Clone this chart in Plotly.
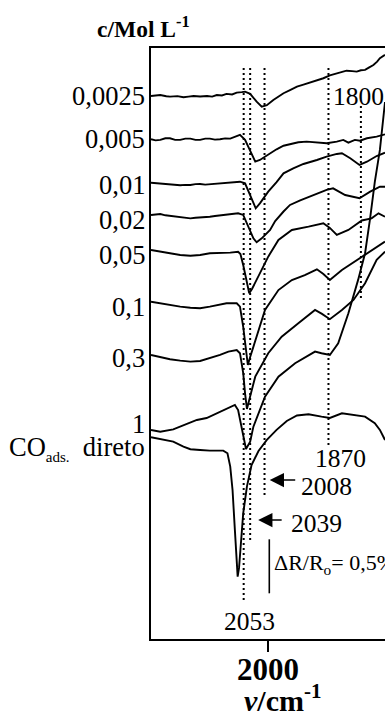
import plotly.graph_objects as go

# ---------------------------------------------------------------------------
# Stacked IR difference spectra, DeltaR/R in units of 1e-4, vs wavenumber
# ---------------------------------------------------------------------------
concentrations = ["0,0025", "0,005", "0,01", "0,02", "0,05", "0,1", "0,3", "1",
                  "CO<sub><span style='font-size:15px'>ads.</span></sub>  direto"]

# vertical stacking offset of each spectrum (DeltaR/R x 1e4)
offsets = [502.8, 462.7, 422.5, 392.6, 360.2, 312.3, 263.0, 193.5, 186.8]

nu_0p0025 = [2253, 2233, 2220, 2212, 2196, 2183, 2172, 2161, 2147, 2132, 2121, 2111, 2100,
             2090, 2078, 2068, 2057, 2050, 2039, 2033, 2025, 2014, 2003, 1989, 1967, 1953,
             1938, 1924, 1910, 1897, 1881, 1867, 1852, 1831, 1819, 1809, 1800, 1791, 1782,
             1773, 1765, 1759, 1748]
dr_0p0025 = [0, 0.9, -0.3, -0.6, -0.2, -1.2, -0.6, 0, -0.5, 0, -0.6, 0.9, 0.4,
             1.9, 1.4, 3.1, 3.6, 4.0, 1.9, -1.5, -5.3, -9.9, -8.6, -3.7, 2.5, 5.4,
             8.6, 10.5, 12.3, 14.0, 16.4, 19.0, 21.0, 23.4, 23.0, 22.5, 23.8, 24.1, 26.5,
             28.7, 31.8, 34.9, 38.0]

nu_0p005 = [2253, 2243, 2233, 2222, 2212, 2201, 2190, 2179, 2168, 2157, 2147, 2136, 2126,
            2115, 2104, 2093, 2082, 2068, 2061, 2050, 2039, 2028, 2018, 1996, 1982, 1967,
            1953, 1935, 1917, 1895, 1874, 1852, 1838, 1827, 1813, 1802, 1787, 1766, 1748]
dr_0p005 = [0, -1.0, -0.6, 0.9, 0.9, -0.6, -0.6, 0.6, 0.6, -0.6, -0.6, 0.6, 0.6,
            -0.3, 0, 0.8, 0.6, 3.1, 4.0, -0.6, -11.5, -20.7, -19.2, -13.0, -9.3, -6.0,
            -4.4, -2.8, -2.2, -3.0, -3.7, -2.2, -0.6, -3.1, -0.6, -1.3, 0.9, 2.4, 4.6]

nu_0p01 = [2253, 2243, 2233, 2222, 2212, 2201, 2190, 2179, 2168, 2157, 2147, 2136, 2126,
           2115, 2104, 2093, 2082, 2061, 2050, 2039, 2027, 2018, 2000, 1982, 1967, 1946,
           1924, 1895, 1874, 1852, 1841, 1823, 1803, 1787, 1766, 1748]
dr_0p01 = [0, -0.3, -0.6, -1.5, -1.2, -2.0, -2.4, -2.0, -2.1, -1.3, -1.2, -1.8, -1.5,
           -0.6, -0.6, 0, 0, 0.9, -0.6, -11.4, -23.7, -19.1, -8.3, 0.6, 8.7, 13.3,
           17.3, 21.0, 24.1, 26.6, 27.2, 22.6, 16.4, 19.4, 24.7, 27.8]

nu_0p02 = [2253, 2243, 2233, 2222, 2212, 2201, 2190, 2179, 2168, 2157, 2147, 2136, 2126,
           2115, 2104, 2093, 2082, 2065, 2054, 2043, 2032, 2025, 2014, 1996, 1985, 1967,
           1953, 1931, 1910, 1874, 1860, 1834, 1803, 1780, 1759, 1748]
dr_0p02 = [0, 0.5, 0.9, -0.3, -0.9, -1.8, -2.1, -2.9, -3.1, -2.6, -2.5, -2.2, -1.6,
           -1.0, -0.3, 0.3, 0.9, 1.6, 0, -10.8, -21.6, -25.3, -21.6, -13.9, -5.6, 3.2,
           9.3, 13.5, 16.9, 23.2, 24.7, 18.5, 15.5, 21.6, 26.2, 26.2]

nu_0p05 = [2253, 2233, 2212, 2190, 2168, 2147, 2126, 2104, 2082, 2065, 2060, 2054, 2047,
           2041, 2035, 2021, 2000, 1978, 1949, 1913, 1881, 1867, 1852, 1827, 1798, 1777,
           1762, 1748]
dr_0p05 = [0, -1.6, -3.1, -4.6, -5.3, -4.6, -3.1, -3.1, -2.5, -1.6, -3.7, -13.9, -29.6,
           -40.1, -36.1, -24.6, -6.2, 9.3, 18.5, 21.6, 24.7, 20.4, 13.9, 18.5, 27.3, 29.3,
           33.9, 30.8]

nu_0p1 = [2253, 2233, 2212, 2190, 2168, 2147, 2126, 2104, 2090, 2068, 2061, 2054, 2048,
          2044, 2039, 2028, 2007, 1978, 1949, 1921, 1895, 1881, 1867, 1841, 1798, 1770,
          1748]
dr_0p1 = [0, -1.5, -3.1, -4.6, -5.6, -6.1, -4.6, -3.1, -1.5, -1.5, -4.6, -23.2, -42.9,
          -58.6, -51.2, -35.5, -7.7, 10.8, 20.1, 24.7, 30.0, 25.7, 20.1, 29.4, 41.7, 49.4,
          55.6]

nu_0p3 = [2253, 2233, 2212, 2190, 2168, 2147, 2126, 2104, 2086, 2068, 2061, 2054, 2050,
          2046, 2041, 2028, 2000, 1971, 1935, 1899, 1884, 1867, 1841, 1816, 1791, 1766,
          1748]
dr_0p3 = [0, -2.1, -4.0, -5.3, -6.2, -5.6, -3.1, 0, 3.1, 4.6, 1.6, -16.9, -35.5,
          -50.0, -41.7, -20.1, 1.6, 16.9, 29.4, 41.7, 38.0, 33.1, 41.7, 50.9, 66.4, 88.0,
          95.7]

nu_1 = [2253, 2233, 2205, 2183, 2154, 2133, 2111, 2090, 2072, 2065, 2057, 2052, 2048,
        2039, 2032, 2007, 1978, 1942, 1899, 1885, 1867, 1849, 1827, 1806, 1791, 1780,
        1770, 1759, 1748]
dr_1 = [0, -1.6, 0.6, 4.6, 9.3, 11.1, 15.5, 20.1, 23.2, 18.5, 0, -11.1, -17.6,
        -10.8, 3.1, 30.8, 49.4, 61.8, 72.6, 71.1, 69.5, 80.3, 108.1, 139.0, 163.7, 196.4,
        229.8, 259.3, 303.7]

nu_co = [2253, 2226, 2205, 2183, 2168, 2147, 2126, 2097, 2088, 2082, 2077, 2072, 2068,
         2066, 2063, 2061, 2054, 2046, 2036, 2021, 2003, 1982, 1960, 1938, 1913, 1885,
         1867, 1841, 1820, 1791, 1770, 1759, 1748]
dr_co = [0, -2.5, -4.1, -8.7, -11.1, -11.8, -12.4, -12.4, -14.8, -27.2, -48.8, -85.8, -113.6,
         -129.1, -121.0, -107.4, -70.4, -45.7, -25.7, -12.7, -2.5, 6.8, 15.1, 20.2, 21.3, 19.1,
         17.9, 22.2, 21.1, 19.1, 13.0, 6.8, -2.5]

spectra = [(nu_0p0025, dr_0p0025), (nu_0p005, dr_0p005), (nu_0p01, dr_0p01),
           (nu_0p02, dr_0p02), (nu_0p05, dr_0p05), (nu_0p1, dr_0p1),
           (nu_0p3, dr_0p3), (nu_1, dr_1), (nu_co, dr_co)]

# band positions marked with dotted guides (cm-1)
bands = [2053, 2039, 2008, 1870, 1800]

# x-axis tick
x_ticks = [2000]

# scale bar: DeltaR/R = 0.5 % (= 50 x 1e-4)
scale_bar = 50

# ---------------------------------------------------------------------------
W, H = 385, 725
ML, MR, MT, MB = 151, 0, 48, 86
PW, PH = W - ML - MR, H - MT - MB
X_RANGE = [2253, 1748]
Y_RANGE = [0, 547.2]


def px(xp):
    return (xp - ML) / PW


def py(yp):
    return (H - MB - yp) / PH


SERIF = "Liberation Serif"

fig = go.Figure()
for (nu, dr), off in zip(spectra, offsets):
    fig.add_trace(go.Scatter(x=nu, y=[off + v for v in dr], mode="lines",
                             line=dict(color="black", width=1.9), hoverinfo="skip"))

# dotted guides: (band, y-bottom, y-top) in DeltaR/R units
guide_extent = {2053: (36.1, 529.6), 2039: (91.7, 529.6), 2008: (133.3, 529.6),
                1870: (179.6, 528.7), 1800: (315.7, 493.5)}
for b in bands:
    y0, y1 = guide_extent[b]
    fig.add_shape(type="line", xref="x", yref="y", x0=b, x1=b, y0=y0, y1=y1,
                  line=dict(color="black", width=2, dash="2px,3px"))

# scale bar
bar_y0 = 42.3
fig.add_shape(type="line", xref="paper", yref="y", x0=px(269.3), x1=px(269.3),
              y0=bar_y0, y1=bar_y0 + scale_bar, line=dict(color="black", width=1.6))

ann = []


def text(t, x, y, size, xa="center", ya="middle", bold=False):
    ann.append(dict(text=t, x=x, y=y, xref="paper", yref="paper", xanchor=xa,
                    yanchor=ya, showarrow=False,
                    font=dict(family=SERIF, size=size, color="black",
                              weight="bold" if bold else "normal")))


# concentration labels
label_y = [96, 139, 185, 220, 255, 306.5, 358, 424, 448]
for lab, yl in zip(concentrations, label_y):
    text(lab, px(146.5), py(yl), 26.5, xa="right")

# header, tick label and axis title
text("c/Mol L<sup>-1</sup>", px(143), py(27), 23.5, bold=True)
ann.append(dict(text=str(x_ticks[0]), x=x_ticks[0], y=py(669), xref="x", yref="paper",
                xanchor="center", yanchor="middle", showarrow=False,
                font=dict(family=SERIF, size=31, color="black", weight="bold")))
text("<i>ν</i>/cm<sup>-1</sup>", px(282), py(698), 30, bold=True)

# band labels
text(str(bands[4]), px(358.3), py(96), 25.5)
text(str(bands[3]), px(340), py(458.3), 25.5)
text(str(bands[2]), px(326.7), py(486), 25.5)
text(str(bands[1]), px(316), py(523.3), 25.5)
text(str(bands[0]), px(249.2), py(621.3), 25.5)

# scale bar label
pct = f"{scale_bar / 100:.1f}".replace(".", ",")
text(f"ΔR/R<sub>o</sub>= {pct}%", px(271.5), py(564), 22, xa="left")

# arrows pointing at the 2008 and 2039 guides
for b, yp, shift, length in [(bands[2], 480, 5.2, 27), (bands[1], 520, 8, 25)]:
    ann.append(dict(text="", x=b, y=py(yp), xref="x", yref="paper", xshift=shift,
                    ax=length, ay=0, showarrow=True, arrowhead=2, arrowsize=1.9,
                    arrowwidth=1.5, arrowcolor="black"))

fig.update_layout(
    width=W, height=H,
    margin=dict(l=ML, r=MR, t=MT, b=MB),
    paper_bgcolor="white", plot_bgcolor="white",
    showlegend=False,
    annotations=ann,
    xaxis=dict(range=X_RANGE, showline=True, linewidth=2, linecolor="black",
               mirror=True, ticks="outside", ticklen=11, tickwidth=2,
               tickcolor="black", tickvals=x_ticks, showticklabels=False,
               showgrid=False, zeroline=False),
    yaxis=dict(range=Y_RANGE, showline=True, linewidth=2, linecolor="black",
               mirror=False, ticks="", showticklabels=False,
               showgrid=False, zeroline=False),
)

fig.write_html("out.html")
